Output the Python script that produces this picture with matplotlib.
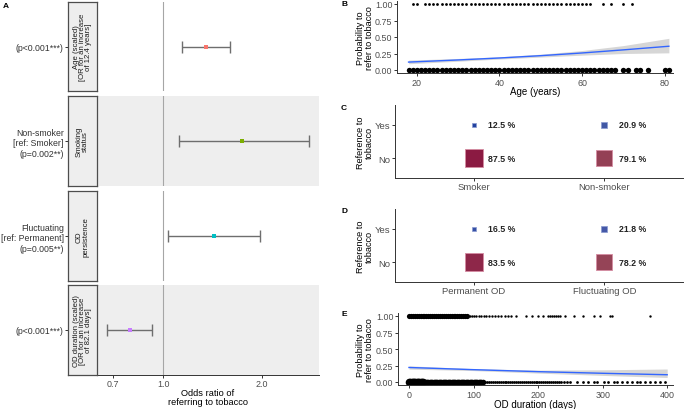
import numpy as np
import matplotlib.pyplot as plt

plt.rcParams['font.family'] = ['Liberation Sans', 'DejaVu Sans']

W, H = 685, 410

# panel A - odds ratios
a_labels = ['(p<0.001***)', 'Non-smoker\n[ref: Smoker]\n(p=0.002**)',
            'Fluctuating\n[ref: Permanent]\n(p=0.005**)', '(p<0.001***)']
a_strips = ['Age (scaled)\n[OR for an increase\nof 12.4 years]', 'Smoking\nstatus',
            'OD\npersistence', 'OD duration (scaled)\n[OR for an increase\nof 82.1 days]']
a_or = [1.35, 1.74, 1.43, 0.79]
a_lo = [1.14, 1.12, 1.03, 0.67]
a_hi = [1.60, 2.80, 1.98, 0.925]
a_ticks = [0.7, 1.0, 2.0]
a_ticklabels = ['0.7', '1.0', '2.0']

# panel B - age
b_yes_age = [19, 20, 22, 23, 24, 25, 26, 27, 28, 29, 30, 31, 32, 33, 34, 35, 36, 37, 38, 39,
             40, 41, 42, 43, 44, 45, 46, 47, 48, 49, 50, 51, 52, 53, 54, 55, 56, 57, 58, 59,
             60, 61, 62, 65, 67, 70, 72]
b_no_age = [18, 19, 20, 21, 22, 23, 24, 25, 26, 27, 28, 29, 30, 31, 32, 33, 34, 35, 36, 37,
            38, 39, 40, 41, 42, 43, 44, 45, 46, 47, 48, 49, 50, 51, 52, 53, 54, 55, 56, 57,
            58, 59, 60, 61, 62, 63, 64, 65, 66, 67, 68, 70, 71, 73, 74, 76, 80, 81]
b_fit_age = [18, 30, 40, 50, 60, 70, 81]
b_fit = [0.12, 0.152, 0.182, 0.217, 0.258, 0.305, 0.36]
b_lo = [0.095, 0.133, 0.166, 0.196, 0.225, 0.25, 0.26]
b_hi = [0.15, 0.175, 0.2, 0.24, 0.295, 0.37, 0.48]

# panels C and D - proportions
c_groups = ['Smoker', 'Non-smoker']
c_yes = [12.5, 20.9]
c_no = [87.5, 79.1]
d_groups = ['Permanent OD', 'Fluctuating OD']
d_yes = [16.5, 21.8]
d_no = [83.5, 78.2]

# panel E - OD duration
e_yes_dense = [0, 3, 6, 9, 12, 15, 18, 21, 24, 27, 30, 33, 36, 39, 42, 45, 48, 51, 54, 57,
               60, 63, 66, 69, 72, 75, 78, 81, 84, 87, 90]
e_yes_sparse = [94, 97, 101, 104, 108, 112, 116, 120, 124, 128, 133, 138, 143, 148, 153, 158,
                166, 182, 190, 200, 208, 216, 219, 222, 225, 228, 231, 234, 242, 255, 270,
                286, 296, 311, 314, 373]
e_no_dense = [0, 2, 4, 6, 8, 10, 12, 14, 16, 18, 20, 22, 24, 26, 28, 30, 32, 34, 36, 38, 40,
              42, 44, 46, 48, 50, 52, 54, 56, 58, 60, 62, 64, 66, 68, 70, 72, 74, 76, 78, 80,
              82, 84, 86, 88, 90, 92, 94, 96, 98, 100, 102, 104, 106, 108, 110, 112, 115]
e_no_sparse = [118, 121, 124, 127, 130, 133, 136, 139, 142, 145, 148, 151, 154, 157, 160, 163,
               166, 169, 172, 175, 178, 181, 184, 187, 190, 193, 196, 199, 202, 205, 208, 211,
               214, 217, 220, 223, 226, 229, 232, 236, 240, 245, 250, 260, 270, 278, 286, 291,
               302, 309, 317, 322, 330, 337, 345, 353, 358, 366, 373, 381, 389, 397]
e_fit_days = [0, 100, 200, 300, 400]
e_fit = [0.22, 0.187, 0.157, 0.132, 0.11]
e_lo = [0.195, 0.173, 0.135, 0.1, 0.068]
e_hi = [0.245, 0.202, 0.18, 0.185, 0.197]

a_colors = ['#F8766D', '#7CAE00', '#00BFC4', '#C77CFF']
yes_cols = [['#2342A0', '#4158A5'], ['#3550A5', '#4558A8']]
no_cols = [['#8B1A42', '#944055'], ['#8E2749', '#954457']]

TICK = 6.4
TITLE = 7.0
YTITLE = 6.6

fig = plt.figure(figsize=(W / 100, H / 100), dpi=100)


def px_ax(x0, y0, x1, y1):
    return fig.add_axes([x0 / W, 1 - y1 / H, (x1 - x0) / W, (y1 - y0) / H])


def style(ax):
    for s in ['top', 'right']:
        ax.spines[s].set_visible(False)
    for s in ['left', 'bottom']:
        ax.spines[s].set_linewidth(0.7)
        ax.spines[s].set_color('#333333')
    ax.tick_params(length=2.2, width=0.7, color='#333333', labelsize=TICK,
                   labelcolor='#4D4D4D', pad=1.0)


def ftext(x, y, s, **kw):
    fig.text(x / W, 1 - y / H, s, **kw)


# ---- A
rows_y = [(3, 92), (97, 187), (192, 282), (286, 376)]
for i, (y0, y1) in enumerate(rows_y):
    ax = px_ax(97, y0, 319, y1)
    ax.set_xscale('log')
    ax.set_xlim(0.626, 3.0)
    ax.set_ylim(-1, 1)
    ax.set_facecolor('#EEEEEE' if i % 2 else 'white')
    ax.axvline(1.0, color='#A6A6A6', lw=0.8, zorder=1)
    ax.errorbar(a_or[i], 0, xerr=[[a_or[i] - a_lo[i]], [a_hi[i] - a_or[i]]], fmt='none',
                ecolor='#6E6E6E', elinewidth=1.0, capsize=4.5, capthick=1.0, zorder=2)
    ax.plot(a_or[i], 0, 's', ms=2.8, color=a_colors[i], mew=0, zorder=3)
    for s in ax.spines.values():
        s.set_visible(False)
    ax.set_yticks([])
    ax.minorticks_off()
    if i == 3:
        ax.spines['bottom'].set_visible(True)
        ax.spines['bottom'].set_color('#333333')
        ax.spines['bottom'].set_linewidth(0.7)
        ax.set_xticks(a_ticks)
        ax.set_xticklabels(a_ticklabels)
        ax.tick_params(axis='x', length=2.2, width=0.7, color='#333333', labelsize=TICK,
                       labelcolor='#4D4D4D', pad=1.0)
        ax.minorticks_off()
    else:
        ax.set_xticks([])

    sa = px_ax(68, y0, 97, y1)
    sa.set_facecolor('#EEEEEE')
    for s in sa.spines.values():
        s.set_color('#4D4D4D')
        s.set_linewidth(0.9)
    sa.set_xticks([])
    sa.set_ylim(0, 1)
    sa.set_yticks([0.5])
    sa.set_yticklabels([a_labels[i]])
    sa.tick_params(axis='y', length=2.0, width=0.7, color='#333333', labelsize=6.3,
                   labelcolor='#333333', pad=1.0)
    sa.text(0.5, 0.5, a_strips[i], rotation=90, ha='center', va='center', fontsize=5.6,
            color='#1A1A1A', multialignment='center', linespacing=0.9,
            transform=sa.transAxes)

ftext(208, 398, 'Odds ratio of\nreferring to tobacco', ha='center', va='center',
      fontsize=6.7, linespacing=1.0)
ftext(3, 6, 'A', fontsize=6, fontweight='bold', va='center')

# ---- B
ax = px_ax(397, 1.7, 673, 74.3)
ax.fill_between(b_fit_age, b_lo, b_hi, color='#999999', alpha=0.4, lw=0)
ax.plot(b_fit_age, b_fit, color='#3366FF', lw=1.0)
ax.scatter(b_yes_age, [1] * len(b_yes_age), s=4, color='black', lw=0)
ax.scatter(b_no_age, [0] * len(b_no_age), s=15, color='black', lw=0)
ax.set_xlim(15.2, 82)
ax.set_ylim(-0.05, 1.05)
ax.set_xticks([20, 40, 60, 80])
ax.set_yticks([0, 0.25, 0.5, 0.75, 1.0])
ax.set_yticklabels(['0.00', '0.25', '0.50', '0.75', '1.00'])
style(ax)
ftext(535, 92, 'Age (years)', ha='center', va='center', fontsize=TITLE)
ftext(365, 38, 'Probability to\nrefer to tobacco', ha='center', va='center', fontsize=YTITLE,
      rotation=90, linespacing=0.9)
ftext(341, 5, 'B', fontsize=6, fontweight='bold', va='center')


# ---- C and D
def side(p):
    # square side in points, from percent
    return (1.67 + 0.187 * p) * 0.72


for k, (groups, yes, no, ytop, letter) in enumerate([(c_groups, c_yes, c_no, 106, 'C'),
                                                      (d_groups, d_yes, d_no, 210, 'D')]):
    ax = px_ax(395, ytop, 683, ytop + 73)
    xs = np.arange(1, len(groups) + 1)
    for j in range(len(groups)):
        ax.scatter(xs[j], 2, marker='s', s=side(yes[j]) ** 2, color=yes_cols[k][j],
                   edgecolor='#8A9AD0', lw=0.5)
        ax.scatter(xs[j], 1, marker='s', s=side(no[j]) ** 2, color=no_cols[k][j],
                   edgecolor='#D58CA2', lw=0.6)
        ax.text(xs[j] + 0.11, 2, f'{yes[j]} %', ha='left', va='center', fontsize=6.3,
                fontweight='bold', color='#222222')
        ax.text(xs[j] + 0.11, 1, f'{no[j]} %', ha='left', va='center', fontsize=6.3,
                fontweight='bold', color='#222222')
    ax.set_xlim(0.4, 2.6)
    ax.set_ylim(0.4, 2.6)
    ax.set_xticks(xs)
    ax.set_xticklabels(groups)
    ax.set_yticks([1, 2])
    ax.set_yticklabels(['No', 'Yes'])
    style(ax)
    ax.tick_params(labelsize=6.8)
    ftext(365, ytop + 37, 'Reference to\ntobacco', ha='center', va='center', fontsize=YTITLE,
          rotation=90, linespacing=0.9)
    ftext(341, ytop + 2, letter, fontsize=6, fontweight='bold', va='center')

# ---- E
ax = px_ax(398, 313.7, 673, 386.3)
ax.fill_between(e_fit_days, e_lo, e_hi, color='#999999', alpha=0.4, lw=0)
ax.plot(e_fit_days, e_fit, color='#3366FF', lw=1.0)
ax.scatter(e_yes_dense, [1] * len(e_yes_dense), s=14, color='black', lw=0)
ax.scatter(e_yes_sparse, [1] * len(e_yes_sparse), s=3, color='black', lw=0)
ax.scatter(e_no_dense, [0] * len(e_no_dense), s=16, color='black', lw=0)
ax.scatter(e_no_dense[:12], [0] * 12, s=30, color='black', lw=0)
ax.scatter(e_no_sparse, [0] * len(e_no_sparse), s=4, color='black', lw=0)
ax.set_xlim(-17, 409)
ax.set_ylim(-0.05, 1.05)
ax.set_xticks([0, 100, 200, 300, 400])
ax.set_yticks([0, 0.25, 0.5, 0.75, 1.0])
ax.set_yticklabels(['0.00', '0.25', '0.50', '0.75', '1.00'])
style(ax)
ftext(535, 405, 'OD duration (days)', ha='center', va='center', fontsize=TITLE)
ftext(365, 350, 'Probability to\nrefer to tobacco', ha='center', va='center', fontsize=YTITLE,
      rotation=90, linespacing=0.9)
ftext(341, 315, 'E', fontsize=6, fontweight='bold', va='center')

fig.savefig('out.png', dpi=100)
